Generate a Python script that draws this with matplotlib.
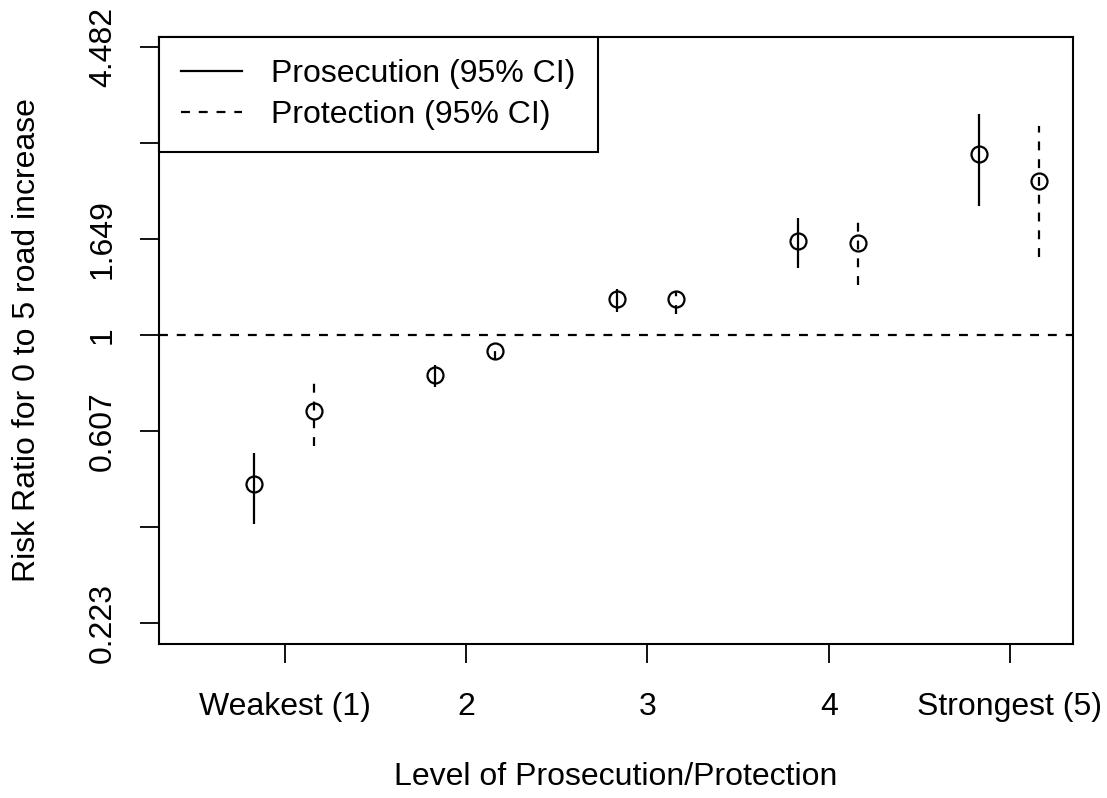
import numpy as np
import matplotlib
matplotlib.use("Agg")
import matplotlib.pyplot as plt
from matplotlib.lines import Line2D

plt.rcParams['font.family'] = ['Liberation Sans', 'DejaVu Sans']

levels = [1, 2, 3, 4, 5]
level_labels = ["Weakest (1)", "2", "3", "4", "Strongest (5)"]

# risk ratios
pros_rr = [0.460, 0.812, 1.206, 1.632, 2.568]
pros_lo = [0.374, 0.763, 1.127, 1.418, 1.958]
pros_hi = [0.541, 0.856, 1.271, 1.839, 3.161]

prot_rr = [0.673, 0.920, 1.206, 1.614, 2.230]
prot_lo = [0.561, 0.878, 1.115, 1.297, 1.501]
prot_hi = [0.783, 0.959, 1.257, 1.868, 2.971]

ytick_logs = [-1.5, -1.0, -0.5, 0.0, 0.5, 1.0, 1.5]
ytick_labels = ["0.223", "", "0.607", "1", "1.649", "", "4.482"]

def main():
    fig = plt.figure(figsize=(11.07, 7.98), dpi=100)
    ax = fig.add_axes([0.1436, 0.193, 0.9693 - 0.1436, 0.9536 - 0.193])

    x = np.array(levels, dtype=float)
    x_pros = x - 0.17
    x_prot = x + 0.16

    lw = 1.6
    ax.vlines(x_pros, pros_lo, pros_hi, colors="black", linewidth=lw, linestyles="solid")
    ax.vlines(x_prot, prot_lo, prot_hi, colors="black", linewidth=lw, linestyles=(0, (4, 4)))
    ax.plot(x_pros, pros_rr, "o", ms=11.5, mfc="none", mec="black", mew=1.6)
    ax.plot(x_prot, prot_rr, "o", ms=11.5, mfc="none", mec="black", mew=1.6)

    ax.axhline(1.0, color="black", linewidth=lw, linestyle=(0, (4, 4)))

    ax.set_yscale("log")
    ax.set_ylim(np.exp(-1.609), np.exp(1.552))
    ax.set_xlim(0.305, 5.348)

    fs = 23
    ax.set_yticks(np.exp(ytick_logs))
    ax.set_yticklabels(ytick_labels, rotation=90, va="center")
    ax.yaxis.set_minor_locator(matplotlib.ticker.NullLocator())
    ax.set_xticks(levels)
    ax.set_xticklabels(level_labels)

    ax.tick_params(axis="both", direction="out", length=13.5, width=1.3,
                   labelsize=fs, colors="black")
    ax.tick_params(axis="x", pad=21)
    ax.tick_params(axis="y", pad=16)
    for s in ax.spines.values():
        s.set_linewidth(1.5)

    ax.set_xlabel("Level of Prosecution/Protection", fontsize=fs, labelpad=29)
    ax.set_ylabel("Risk Ratio for 0 to 5 road increase", fontsize=fs, labelpad=33)

    handles = [Line2D([], [], color="black", lw=lw, ls="solid"),
               Line2D([], [], color="black", lw=lw, ls=(0, (4, 4)))]
    leg = ax.legend(handles, ["Prosecution (95% CI)", "Protection (95% CI)"],
                    loc="upper left", borderaxespad=0, fancybox=False,
                    fontsize=fs, handlelength=1.9, handletextpad=0.9,
                    borderpad=0.7, labelspacing=0.33, framealpha=1)
    leg.get_frame().set_edgecolor("black")
    leg.get_frame().set_linewidth(1.5)

    fig.savefig("out.png", dpi=100)

if __name__ == '__main__':
    main()
